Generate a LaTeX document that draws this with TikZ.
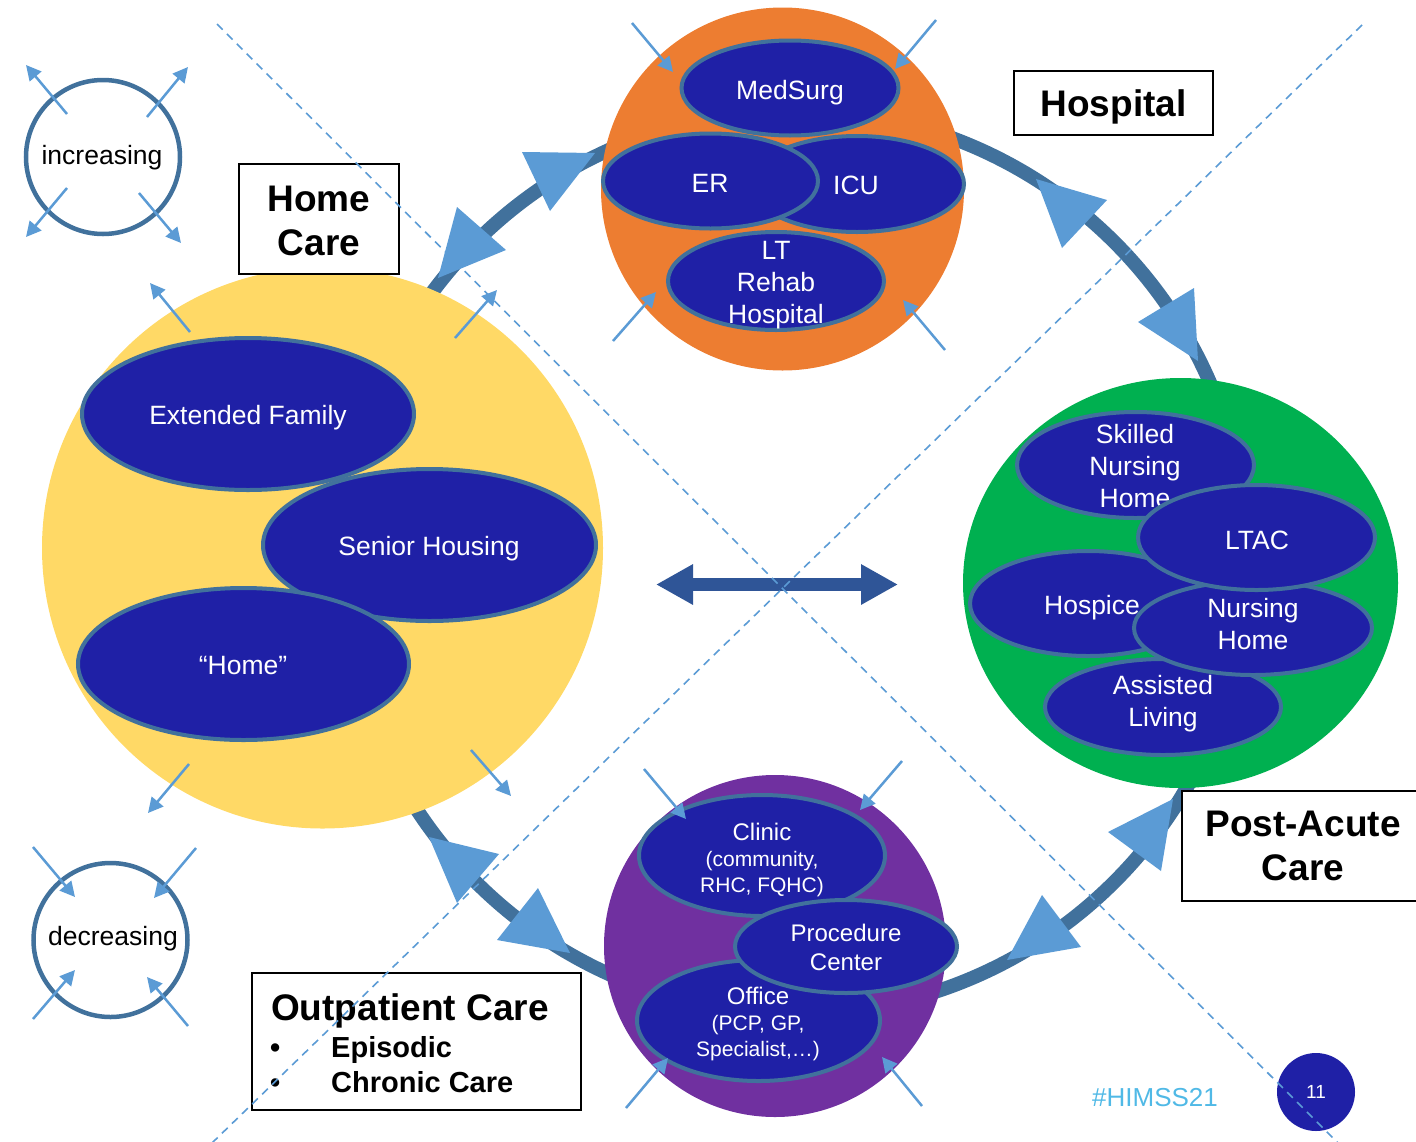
\documentclass[tikz,border=0pt]{standalone}
\usepackage{fontspec}
\setmainfont{Liberation Sans}
\usetikzlibrary{shapes.geometric,arrows.meta}
\definecolor{ringblue}{HTML}{41719C}
\definecolor{headblue}{HTML}{5B9BD5}
\definecolor{navyfill}{RGB}{31,32,166}
\definecolor{homeyellow}{HTML}{FFD966}
\definecolor{hosporange}{HTML}{ED7D31}
\definecolor{postgreen}{HTML}{00B050}
\definecolor{outpurple}{HTML}{7030A0}
\definecolor{dblblue}{HTML}{2F5597}
\definecolor{hashblue}{RGB}{80,185,230}
\newcommand\smallarrow[3]{\coordinate (#1s) at #2; \coordinate (#1e) at #3; \draw[smallarr] (#1s) -- (#1e);}
\newcommand\ringhead[3]{\fill[headfill] #1 -- #2 -- #3 -- cycle;}
\begin{document}
\begin{tikzpicture}[x=1pt,y=-1pt,
  ring/.style={draw=ringblue, line width=14pt},
  bigdisc/.style={circle, inner sep=0pt},
  oval/.style={ellipse, draw=ringblue, line width=4pt, fill=navyfill, inner sep=0pt},
  ovaltext/.style={text=white, align=center, inner sep=0pt, font=\fontsize{26.5}{32}\selectfont},
  ovalsmall/.style={text=white, align=center, inner sep=0pt, font=\fontsize{21}{26}\selectfont},
  smallarr/.style={draw=headblue, line width=2.5pt, -{Triangle[length=15pt,width=15pt]}},
  headfill/.style={fill=headblue},
  labelbox/.style={draw=black, line width=2.5pt, fill=white, inner sep=0pt, align=center, font=\bfseries\fontsize{37}{44}\selectfont},
  ringlabel/.style={circle, draw=ringblue, line width=4.5pt, minimum size=154pt, inner sep=0pt},
  plaintext/.style={inner sep=0pt, font=\fontsize{26.5}{32}\selectfont},
  guide/.style={draw=headblue, line width=1.6pt, dash pattern=on 8pt off 6pt},
  dbl/.style={draw=dblblue, line width=13pt, {Triangle[length=37pt,width=38pt]}-{Triangle[length=37pt,width=38pt]}},
]
\path[use as bounding box] (0,0) rectangle (1416,1141);
\clip (0,0) rectangle (1416,1141);

% ring
\coordinate (ringc) at (795,562);
\draw[ring] (ringc) circle [radius=452];

% big discs
\node[bigdisc, fill=homeyellow, minimum size=561pt] (homecirc) at (322.5,548) {};
\node[bigdisc, fill=hosporange, minimum size=363pt] (hospcirc) at (782.5,189) {};
\node[ellipse, inner sep=0pt, fill=postgreen, minimum width=435pt, minimum height=410pt] (postcirc) at (1180.5,583) {};
\node[bigdisc, fill=outpurple, minimum size=342pt] (outcirc) at (775,946) {};

% home care ovals
\node[oval, minimum width=332pt, minimum height=152pt] (extfam) at (248,414) {};
\node[ovaltext] (extfamt) at (248,418) {Extended Family};
\node[oval, minimum width=333pt, minimum height=152pt] (senior) at (429.5,545) {};
\node[ovaltext] (seniort) at (429,549) {Senior Housing};
\node[oval, minimum width=331pt, minimum height=152pt] (homeov) at (243.5,664) {};
\node[ovaltext] (homeovt) at (243,666) {“Home”};

% hospital ovals
\node[oval, minimum width=217pt, minimum height=95pt] (medsurg) at (790,88) {};
\node[ovaltext] (medsurgt) at (790,93) {MedSurg};
\node[oval, minimum width=214pt, minimum height=96pt] (icu) at (857,184) {};
\node[ovaltext] (icut) at (856,185) {ICU};
\node[oval, minimum width=215pt, minimum height=95pt] (er) at (710.5,181) {};
\node[ovaltext] (ert) at (710,183) {ER};
\node[oval, minimum width=216pt, minimum height=98pt] (ltrehab) at (776,281) {};
\node[ovaltext] (ltrehabt) at (776,285) {LT\\Rehab\\Hospital};

% post-acute ovals
\node[oval, minimum width=237pt, minimum height=106pt] (snf) at (1135.5,465) {};
\node[ovaltext] (snft) at (1135,466) {Skilled\\Nursing\\Home};
\node[oval, minimum width=236pt, minimum height=96pt] (assisted) at (1163,707) {};
\node[ovaltext] (assistedt) at (1163,704) {Assisted\\Living};
\node[oval, minimum width=236pt, minimum height=105pt] (hospice) at (1088,603.5) {};
\node[ovaltext] (hospicet) at (1092,608) {Hospice};
\node[oval, minimum width=238pt, minimum height=94pt] (nursing) at (1253,628) {};
\node[ovaltext] (nursingt) at (1253,624) {Nursing\\Home};
\node[oval, minimum width=237pt, minimum height=105pt] (ltac) at (1256.5,537.5) {};
\node[ovaltext] (ltact) at (1257,540) {LTAC};

% outpatient ovals
\node[oval, minimum width=246pt, minimum height=121pt] (clinic) at (762,855.5) {};
\node[ovalsmall] (clinict) at (762,860) {{\fontsize{24}{26}\selectfont Clinic}\\(community,\\RHC, FQHC)};
\node[oval, minimum width=243pt, minimum height=121pt] (office) at (758.5,1020.5) {};
\node[ovalsmall] (officet) at (758,1024) {{\fontsize{24}{26}\selectfont Office}\\(PCP, GP,\\Specialist,…)};
\node[oval, minimum width=222pt, minimum height=93pt] (proc) at (846,946.5) {};
\node[ovaltext, font=\fontsize{24}{29}\selectfont] (proct) at (846,947) {Procedure\\Center};

% increasing / decreasing
\node[ringlabel] (incr) at (103,157) {};
\node[plaintext] (incrt) at (102,158) {increasing};
\node[ringlabel] (decr) at (110.5,940) {};
\node[plaintext] (decrt) at (113,939) {decreasing};

% small arrows
\smallarrow{ia}{(67,114)}{(26,65)}
\smallarrow{ib}{(147,117)}{(188,67)}
\smallarrow{ic}{(67,188)}{(26,237)}
\smallarrow{id}{(139,193)}{(181,243)}
\smallarrow{da}{(33,847)}{(75,897)}
\smallarrow{db}{(196,848)}{(154,898)}
\smallarrow{dc}{(33,1019)}{(75,970)}
\smallarrow{dd}{(188,1026)}{(147,977)}
\smallarrow{ha}{(190,332)}{(150,283)}
\smallarrow{hb}{(455,338)}{(497,290)}
\smallarrow{hc}{(189,764)}{(148,813)}
\smallarrow{hd}{(471,750)}{(511,796)}
\smallarrow{pa}{(632,23)}{(673,72)}
\smallarrow{pb}{(936,20)}{(895,69)}
\smallarrow{pc}{(613,341)}{(656,292)}
\smallarrow{pd}{(945,350)}{(903,300)}
\smallarrow{oa}{(644,769)}{(686,819)}
\smallarrow{ob}{(902,761)}{(860,810)}
\smallarrow{oc}{(626,1108)}{(668,1058)}
\smallarrow{od}{(922,1106)}{(882,1057)}

% ring arrowheads
\ringhead{(595,153)}{(522,152)}{(550,211)}
\ringhead{(438,278)}{(457,207)}{(506,250)}
\ringhead{(1036,179)}{(1107,200)}{(1062,248)}
\ringhead{(1198,361)}{(1138,322)}{(1194,288)}
\ringhead{(1173,799)}{(1108,832)}{(1161,871)}
\ringhead{(1007,960)}{(1042,895)}{(1081,947)}
\ringhead{(429,837)}{(499,854)}{(457,903)}
\ringhead{(570,953)}{(538,888)}{(497,940)}

% central double arrow
\coordinate (dl) at (656,584.5);
\coordinate (dr) at (898,584.5);
\draw[dbl] (dl) -- (dr);

% label boxes
\node[labelbox, minimum width=160pt, minimum height=110pt] (hcbox) at (319,219) {};
\node[inner sep=0pt, align=center, font=\bfseries\fontsize{37}{44}\selectfont] (hcboxt) at (319,220.5) {Home\\Care};
\node[labelbox, minimum width=199pt, minimum height=64pt] (hospbox) at (1113.5,103) {};
\node[inner sep=0pt, font=\bfseries\fontsize{37}{44}\selectfont] (hospboxt) at (1113.5,107) {Hospital};
\node[labelbox, minimum width=242pt, minimum height=110pt] (pacbox) at (1303,846) {Post-Acute\\Care};
\node[labelbox, minimum width=329pt, minimum height=137pt] (opbox) at (416.5,1041.5) {};
\node[anchor=base west, inner sep=0pt, font=\bfseries\fontsize{37}{44}\selectfont] (ophead) at (271,1020) {Outpatient Care};
\node[anchor=base west, inner sep=0pt, font=\bfseries\fontsize{29}{35}\selectfont] (opb1) at (270,1057) {•};
\node[anchor=base west, inner sep=0pt, font=\bfseries\fontsize{29}{35}\selectfont] (opi1) at (331,1057) {Episodic};
\node[anchor=base west, inner sep=0pt, font=\bfseries\fontsize{29}{35}\selectfont] (opb2) at (270,1092) {•};
\node[anchor=base west, inner sep=0pt, font=\bfseries\fontsize{29}{35}\selectfont] (opi2) at (331,1092) {Chronic Care};

% footer
\node[text=hashblue, inner sep=0pt, font=\fontsize{26}{30}\selectfont] (hashtag) at (1155,1098) {\#HIMSS21};
\node[circle, fill=navyfill, minimum size=78pt, inner sep=0pt, text=white, font=\fontsize{19}{22}\selectfont] (pagenum) at (1316,1092) {11};

% dashed guides
\coordinate (g1a) at (217,24);
\coordinate (g1b) at (1338,1143);
\coordinate (g2a) at (1362,25);
\coordinate (g2b) at (212,1143);
\draw[guide] (g1a) -- (g1b);
\draw[guide] (g2a) -- (g2b);
\end{tikzpicture}
\end{document}
